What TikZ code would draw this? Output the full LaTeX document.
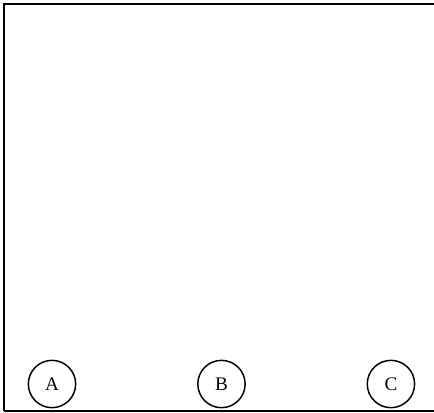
\documentclass[tikz,border=0pt]{standalone}
\usepackage{fontspec}
\setmainfont{Liberation Serif}
\usetikzlibrary{positioning}
\definecolor{frameline}{RGB}{0,0,0}
\definecolor{baseline}{RGB}{190,190,190}

\begin{document}
\begin{tikzpicture}[x=0.75pt, y=-0.75pt,
  site/.style={draw, circle, line width=1.1pt, minimum size=35.5pt, inner sep=0pt,
    font=\Large, text height=0.95em, text depth=0pt},
  edge/.style={line width=1.4pt, color=frameline}
]
\useasboundingbox (0,0) rectangle (434,412);
% frame
\coordinate (nw) at (4,4);
\coordinate (ne) at (434,4);
\coordinate (sw) at (4,411);
\coordinate (se) at (434,411);
\draw[edge] (sw) -- (nw) -- (ne);
\draw[baseline, line width=1pt] (sw) -- (se);

\node[site] (a) at (52,384) {A};
\node[site, right=90.5pt of a] (b) {B};
\node[site, right=90.5pt of b] (c) {C};
\end{tikzpicture}
\end{document}
